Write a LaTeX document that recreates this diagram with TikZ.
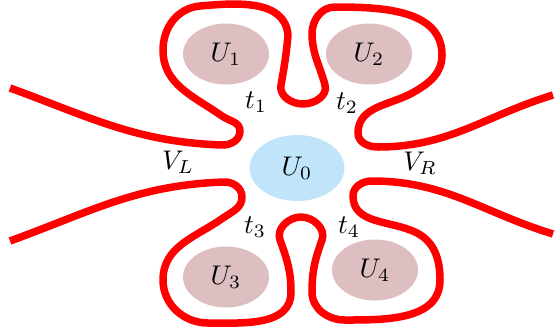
\documentclass[tikz,border=0pt]{standalone}
\usepackage{graphicx}
\usetikzlibrary{shapes.geometric}
\definecolor{rosefill}{RGB}{222,191,193}
\definecolor{bluefill}{RGB}{192,228,250}
\newcommand{\mylbl}[1]{\scalebox{2.7}{$#1$}}
\begin{document}
\begin{tikzpicture}[x=1pt,y=1pt,
  curve/.style={draw=red,line width=7.5pt,line cap=butt,line join=round},
  region/.style={ellipse,fill=rosefill,inner sep=0pt,minimum width=86pt,minimum height=61pt},
  centre/.style={ellipse,fill=bluefill,inner sep=0pt,minimum width=95pt,minimum height=66pt},
  lab/.style={inner sep=0pt}]
\useasboundingbox (0,0) rectangle (556,-333);
% regions
\node[region] (U1) at (226,-54) {\mylbl{U_1}};
\node[region] (U2) at (369,-54) {\mylbl{U_2}};
\node[centre] (U0) at (297,-168) {\mylbl{U_0}};
\node[region] (U3) at (226,-277) {\mylbl{U_3}};
\node[region] (U4) at (375,-270) {\mylbl{U_4}};
% top curve
\draw[curve] (10,-88)
  to[out=-20,in=178] (222,-145)
  to[out=-2,in=-90] (240,-131)
  to[out=90,in=-35] (222,-116)
  to[out=145,in=-90] (163,-50)
  to[out=90,in=185] (200,-6)
  to[out=5,in=95] (288,-35)
  to[out=-95,in=80] (281,-85)
  to[out=-100,in=180] (303,-104)
  to[out=0,in=-75] (325,-85)
  to[out=105,in=-88] (312,-35)
  to[out=92,in=180] (335,-7)
  to[out=0,in=90] (442,-55)
  to[out=-90,in=30] (414,-92)
  to[out=210,in=90] (358,-133)
  to[out=-90,in=180] (378,-147)
  to[out=0,in=197] (553,-95);
% bottom curve
\draw[curve] (10,-241)
  to[out=20,in=182] (224,-182)
  to[out=2,in=90] (242,-197)
  to[out=-90,in=35] (223,-218)
  to[out=215,in=90] (163,-280)
  to[out=-90,in=180] (208,-323)
  to[out=0,in=-90] (291,-292)
  to[out=90,in=-70] (280,-240)
  to[out=110,in=180] (301,-217)
  to[out=0,in=70] (322,-240)
  to[out=-110,in=90] (312,-292)
  to[out=-90,in=180] (345,-320)
  to[out=0,in=-90] (440,-280)
  to[out=90,in=-25] (415,-232)
  to[out=155,in=-90] (353,-196)
  to[out=90,in=180] (372,-181)
  to[out=0,in=163] (553,-234);
% labels
\node[lab] (t1) at (256,-102) {\mylbl{t_1}};
\node[lab] (t2) at (347,-103) {\mylbl{t_2}};
\node[lab] (t3) at (255,-227) {\mylbl{t_3}};
\node[lab] (t4) at (349,-227) {\mylbl{t_4}};
\node[lab] (VL) at (178,-162) {\mylbl{V_L}};
\node[lab] (VR) at (420,-163) {\mylbl{V_R}};
\end{tikzpicture}
\end{document}
